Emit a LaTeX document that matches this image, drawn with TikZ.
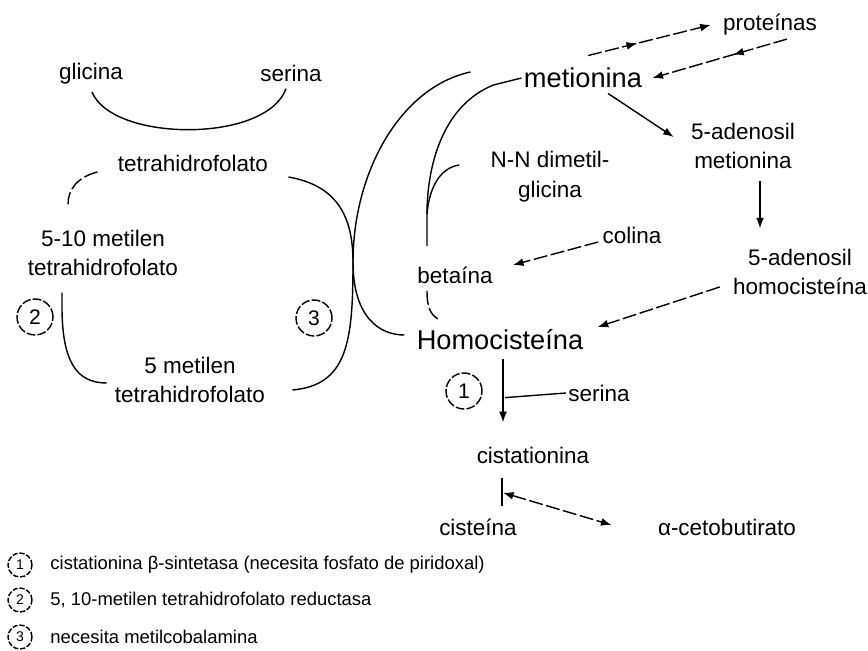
\documentclass[tikz,border=0pt]{standalone}
\usepackage{fontspec}
\setmainfont{Liberation Sans}
\usepackage{tikz}
\usetikzlibrary{arrows.meta, positioning, calc}
\usetikzlibrary{decorations.markings}

\begin{document}
\begin{tikzpicture}[
	x=0.02cm, y=-0.02cm, line width=0.8pt, >={Latex[length=6pt,width=4.5pt]},
	etiqueta/.style={inner sep=1pt, align=center, font=\fontsize{12.8}{17}\selectfont},
	grande/.style={inner sep=1pt, font=\fontsize{15.5}{18}\selectfont},
	enzima/.style={draw, circle, dash pattern=on 5pt off 1.2pt, minimum size=0.72cm, inner sep=0pt, font=\fontsize{12}{14}\selectfont},
	enzleyenda/.style={draw, circle, dash pattern=on 3pt off 1pt, minimum size=0.48cm, inner sep=0pt, font=\fontsize{8}{9}\selectfont},
	leyenda/.style={anchor=west, inner sep=1pt, font=\fontsize{10.5}{12}\selectfont},
	discont/.style={dash pattern=on 8pt off 2pt},
	flechamedia/.style={decoration={markings, mark=at position #1 with {\arrow{>}}}, postaction={decorate}}
	]
	\useasboundingbox (0,0) rectangle (868,651);
	% ciclo del folato
	\node[etiqueta] (glic) at (91,74) {glicina};
	\node[etiqueta] (ser1) at (291,73) {serina};
	\node[etiqueta] (thf) at (193,163) {tetrahidrofolato};
	\node[etiqueta] (mthf) at (103,253) {5-10 metilen\\tetrahidrofolato};
	\node[etiqueta] (mtthf) at (190,380) {5 metilen\\tetrahidrofolato};
	\node[enzima] (e2) at (35,317) {2};
	\node[enzima] (e3) at (314,318) {3};
	% ciclo de la metionina
	\node[grande] (met) at (583,78) {metionina};
	\node[etiqueta] (prot) at (770,25) {proteínas};
	\node[etiqueta] (sam) at (743,146) {5-adenosil\\metionina};
	\node[etiqueta] (sah) at (800,272) {5-adenosil\\homocisteína};
	\node[etiqueta] (dmg) at (550,177) {N-N dimetil-\\glicina};
	\node[etiqueta] (col) at (632,235) {colina};
	\node[etiqueta] (bet) at (455,275) {betaína};
	\node[grande] (hcy) at (500,340) {Homocisteína};
	% transulfuracion
	\node[enzima] (e1) at (464,391) {1};
	\node[etiqueta] (ser2) at (599,393) {serina};
	\node[etiqueta] (cist) at (533,455) {cistationina};
	\node[etiqueta] (cys) at (478,527) {cisteína};
	\node[etiqueta] (aceto) at (727,527) {α-cetobutirato};
	% leyenda
	\node[enzleyenda] (l1) at (20,565) {1};
	\node[leyenda] (t1) at (48,565) {cistationina β-sintetasa (necesita fosfato de piridoxal)};
	\node[enzleyenda] (l2) at (20,600) {2};
	\node[leyenda] (t2) at (48,600) {5, 10-metilen tetrahidrofolato reductasa};
	\node[enzleyenda] (l3) at (20,637) {3};
	\node[leyenda] (t3) at (48,637) {necesita metilcobalamina};

	% conectores del folato
	\coordinate (cruce) at (353,262);
	\coordinate (union) at ($(bet.north)+(-28,-50)$);
	\draw ($(glic.south)+(1,5)$) .. controls +(20,50) and +(-20,55) .. ($(ser1.south)+(-5,5)$);
	\draw[discont] ($(thf.west)+(-18,9)$) .. controls +(-20,5) and +(0,-15) .. ($(mthf.north)+(-35,-23)$);
	\draw ($(mthf.south)+(-41,14)$) -- ++(0,14) .. controls +(0,55) and +(-30,0) .. ($(mtthf.west)+(-6,3)$);
	\draw ($(thf.east)+(18,14)$) .. controls +(45,8) and +(0,-50) .. (cruce) .. controls +(0,80) and +(55,-5) .. ($(mtthf.east)+(25,10)$);
	\draw ($(met.west)+(-51,-6)$) .. controls +(-70,15) and +(0,-90) .. (cruce) .. controls +(0,55) and +(-25,0) .. ($(hcy.west)+(-10,-5)$);
	% betaina
	\draw (met.west) -- ++(-28,7) .. controls +(-50,20) and +(0,-50) .. (union) -- ($(bet.north)+(-28,-18)$);
	\draw ($(dmg.west)+(-29,-12)$) .. controls +(-20,3) and +(2,-25) .. (union);
	\draw[discont] ($(bet.south)+(-28,5)$) .. controls +(0,20) and +(-8,-5) .. ($(hcy.north)+(-60,-7)$);
	\draw[->, discont] ($(col.west)+(-2,7)$) -- ($(bet.east)+(18,-10)$);
	% metionina
	\draw[->, discont, flechamedia=0.4] ($(met.north)+(5,-10)$) -- ($(prot.west)+(-10,0)$);
	\draw[->, discont, flechamedia=0.4] ($(prot.south)+(17,1)$) -- ($(met.east)+(8,0)$);
	\draw[->] ($(met.south)+(25,3)$) -- ($(sam.west)+(-15,-9)$);
	\draw[->] ($(sam.south)+(17,9)$) -- ($(sah.north)+(-40,-18)$);
	\draw[->, discont] ($(sah.west)+(-11,15)$) -- ($(hcy.east)+(12,-13)$);
	% transulfuracion
	\draw[->] ($(hcy.south)+(3,6)$) -- ($(cist.north)+(-30,-22)$);
	\draw (ser2.west) -- ($(hcy.south)+(5,45)$);
	\draw ($(cist.south)+(-31,12)$) -- ($(cys.north)+(24,-10)$);
	\draw[<->, discont] ($(cist.south)+(-30,27)$) -- ($(aceto.west)+(-44,-2)$);
\end{tikzpicture}
\end{document}
